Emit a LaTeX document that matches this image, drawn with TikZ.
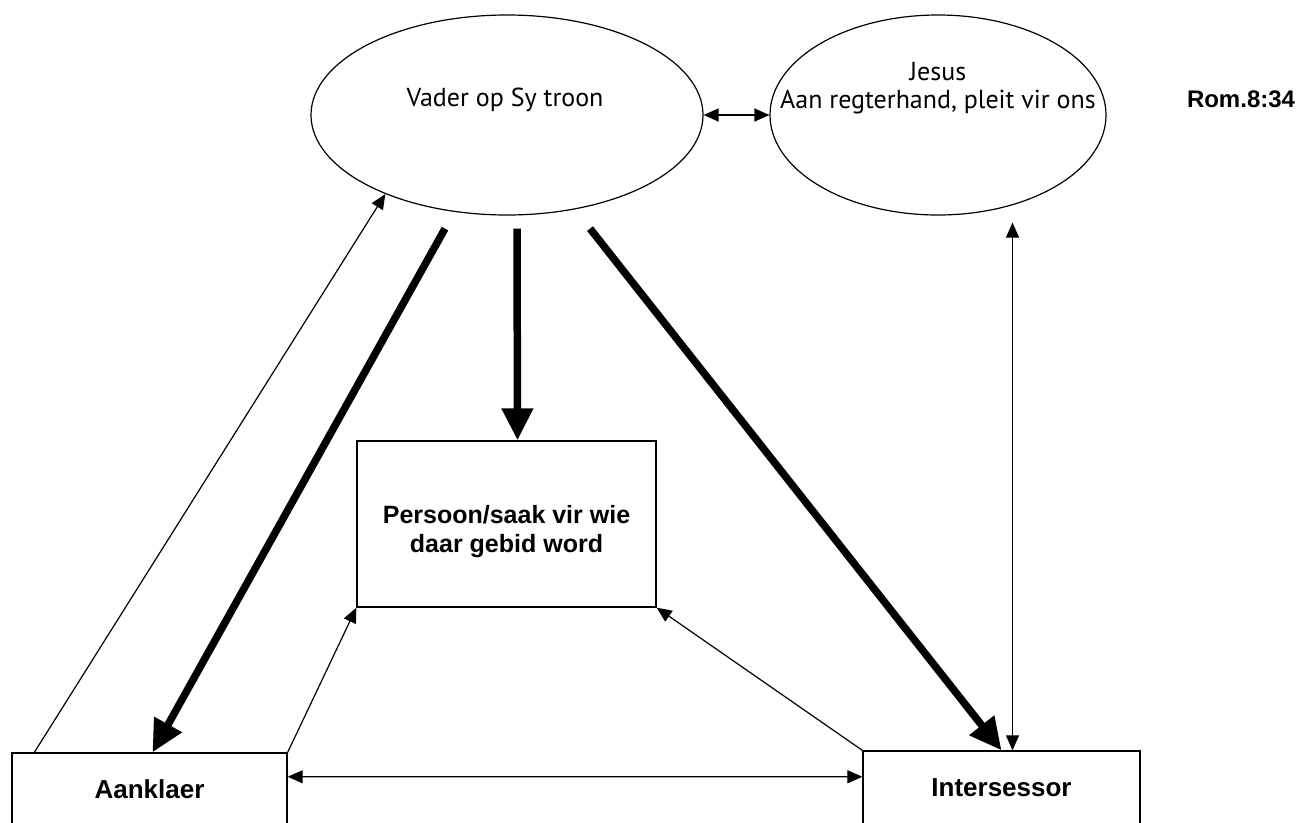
\documentclass[tikz,border=0pt]{standalone}
\usepackage{fontspec}
\setmainfont{Liberation Sans}
\newfontfamily\ellfont{PT Sans}
\usetikzlibrary{arrows.meta,calc,shapes.geometric}

\begin{document}
\begin{tikzpicture}[x=1pt,y=-1pt,
    >={Triangle[length=15pt,width=13pt]},
    troon/.style={draw,ellipse,line width=1.2pt,inner sep=0pt},
    boks/.style={draw,rectangle,line width=1.3pt,inner sep=0pt,align=center,
                 font=\bfseries\fontsize{26}{30}\selectfont},
    etxt/.style={font=\ellfont\fontsize{26}{28}\selectfont,align=center},
    dun/.style={line width=1.2pt,->},
    dunbeide/.style={line width=1.2pt,<->},
    dik/.style={line width=7.5pt,-{Triangle[length=32pt,width=30pt]}}]
  \clip (0,0) rectangle (1305,822);
  % ellipses
  \node[troon,minimum width=392pt,minimum height=200pt] (vader) at (507,115) {};
  \node[troon,minimum width=336pt,minimum height=200pt] (jesus) at (938,115) {};
  \node[etxt] (vadertxt) at (505,100) {Vader op Sy troon};
  \node[etxt] (jesustxt) at (938,88) {Jesus\\Aan regterhand, pleit vir ons};
  \node[font=\bfseries\fontsize{24}{26}\selectfont] (rom) at (1241,99) {Rom.8:34};
  % boxes
  \node[boks,minimum width=299pt,minimum height=166pt] (persoon) at (506.5,524) {};
  \node[font=\bfseries\fontsize{25}{29}\selectfont,align=center] (persoontxt)
        at ([yshift=-8pt]persoon.center) {Persoon/saak vir wie\\daar gebid word};
  \node[boks,minimum width=275pt,minimum height=72pt] (aank) at (149.5,789) {Aanklaer};
  \node[boks,minimum width=277pt,minimum height=74pt] (inter) at (1001.5,788) {Intersessor};
  % thick arrows from the throne
  \draw[dik] ([xshift=-62pt,yshift=-13pt]vader.south) -- ([xshift=3pt]aank.north);
  \draw[dik] ([xshift=10pt,yshift=-13pt]vader.south) -- ([xshift=11pt]persoon.north);
  \draw[dik] ([xshift=83pt,yshift=-13pt]vader.south) -- (inter.north);
  % thin arrows
  \draw[dun] ([xshift=23pt]aank.north west) -- (vader.213);
  \draw[dun] (aank.north east) -- (persoon.south west);
  \draw[dun] (inter.north west) -- (persoon.south east);
  \draw[dunbeide] (vader.east) -- (jesus.west);
  \draw[dunbeide] ($(inter.north)+(11,0)$) -- ($(inter.north |- jesus.south)+(11,7)$);
  \draw[dunbeide] ($(aank.north east)!0.333!(aank.south east)$)
    -- ($(inter.north west)!0.351!(inter.south west)$);
\end{tikzpicture}
\end{document}
